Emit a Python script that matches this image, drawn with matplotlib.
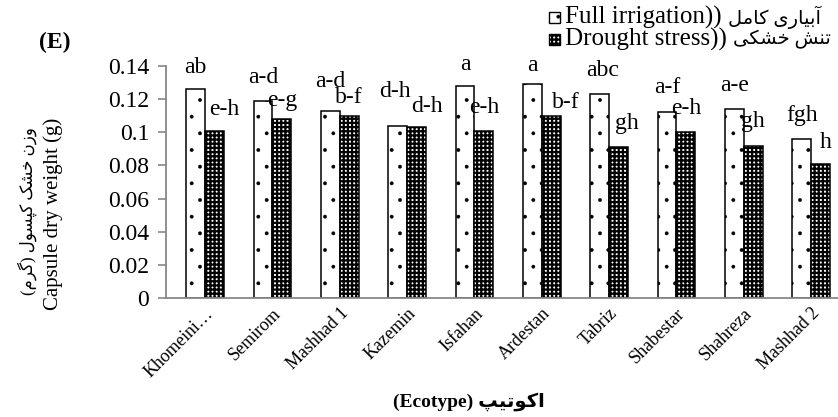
import numpy as np
import matplotlib
matplotlib.use('Agg')
import matplotlib.pyplot as plt
from matplotlib.patches import Rectangle

# داده‌ها
ecotypes = ['Khomeini…', 'Semirom', 'Mashhad 1', 'Kazemin', 'Isfahan',
            'Ardestan', 'Tabriz', 'Shabestar', 'Shahreza', 'Mashhad 2']
full_irrigation = [0.126, 0.119, 0.113, 0.104, 0.128, 0.129, 0.123, 0.112, 0.114, 0.096]
drought_stress = [0.101, 0.108, 0.110, 0.103, 0.101, 0.110, 0.091, 0.100, 0.092, 0.081]
full_letters = ['ab', 'a-d', 'a-d', 'd-h', 'a', 'a', 'abc', 'a-f', 'a-e', 'fgh']
drought_letters = ['e-h', 'e-g', 'b-f', 'd-h', 'e-h', 'b-f', 'gh', 'e-h', 'gh', 'h']
y_ticks = [0, 0.02, 0.04, 0.06, 0.08, 0.1, 0.12, 0.14]
y_tick_labels = ['0', '0.02', '0.04', '0.06', '0.08', '0.1', '0.12', '0.14']

# جای برچسب حروف (پیکسل نسبت به بالای ستون)
full_dx = [0, 0, 0, -3, 0, 0, 3, 0, 0, 0]
full_dy = [22, 23, 29, 34, 21, 19, 24, 25, 24, 23]
drought_dx = [10, 0, 0, 10, 0, 15, 8, 0, 0, 5]
drought_dy = [21, 19, 18, 21, 23, 13, 24, 24, 24, 21]

# شکل‌دهی ساده حروف فارسی (matplotlib خودش این کار را نمی‌کند)
FORMS = {
    '\u0622': ('\uFE81', '\uFE82', None, None),
    '\u0627': ('\uFE8D', '\uFE8E', None, None),
    '\u0628': ('\uFE8F', '\uFE90', '\uFE91', '\uFE92'),
    '\u062A': ('\uFE95', '\uFE96', '\uFE97', '\uFE98'),
    '\u062E': ('\uFEA5', '\uFEA6', '\uFEA7', '\uFEA8'),
    '\u0631': ('\uFEAD', '\uFEAE', None, None),
    '\u0632': ('\uFEAF', '\uFEB0', None, None),
    '\u0633': ('\uFEB1', '\uFEB2', '\uFEB3', '\uFEB4'),
    '\u0634': ('\uFEB5', '\uFEB6', '\uFEB7', '\uFEB8'),
    '\u0644': ('\uFEDD', '\uFEDE', '\uFEDF', '\uFEE0'),
    '\u0645': ('\uFEE1', '\uFEE2', '\uFEE3', '\uFEE4'),
    '\u0646': ('\uFEE5', '\uFEE6', '\uFEE7', '\uFEE8'),
    '\u0648': ('\uFEED', '\uFEEE', None, None),
    '\u067E': ('\uFB56', '\uFB57', '\uFB58', '\uFB59'),
    '\u06A9': ('\uFB8E', '\uFB8F', '\uFB90', '\uFB91'),
    '\u06AF': ('\uFB92', '\uFB93', '\uFB94', '\uFB95'),
    '\u06CC': ('\uFBFC', '\uFBFD', '\uFBFE', '\uFBFF'),
}


def rtl(s):
    out = []
    for i, c in enumerate(s):
        if c not in FORMS:
            out.append(c)
            continue
        prev = s[i - 1] if i > 0 else None
        nxt = s[i + 1] if i + 1 < len(s) else None
        j_prev = prev in FORMS and FORMS[prev][2] is not None
        j_next = FORMS[c][2] is not None and nxt in FORMS
        iso, fin, ini, med = FORMS[c]
        if j_prev and j_next:
            out.append(med)
        elif j_prev:
            out.append(fin)
        elif j_next:
            out.append(ini)
        else:
            out.append(iso)
    vis = ''.join(out)[::-1]
    return vis.translate(str.maketrans('()', ')('))


def set_hlw(patches, lw):
    for p in patches:
        if hasattr(p, 'set_hatch_linewidth'):
            p.set_hatch_linewidth(lw)


FAM = ['Liberation Serif', 'DejaVu Sans']
plt.rcParams['font.family'] = FAM

W, H = 838, 417
fig = plt.figure(figsize=(W / 100, H / 100), dpi=100)
ax = fig.add_axes([166 / W, 1 - 298 / H, 1 - 166 / W, (298 - 66) / H])

x = np.arange(len(ecotypes))
w = 0.28
b1 = ax.bar(x - w / 2, full_irrigation, w, facecolor='white', edgecolor='black',
            linewidth=1.1, hatch='.')
b2 = ax.bar(x + w / 2, drought_stress, w, facecolor='white', edgecolor='black',
            linewidth=1.1, hatch='++++')
set_hlw(b1, 0.3)
set_hlw(b2, 1.6)

for i in range(len(x)):
    ax.annotate(full_letters[i], (x[i] - w / 2, full_irrigation[i]),
                xytext=(full_dx[i], full_dy[i]), textcoords='offset pixels',
                ha='center', va='center', fontsize=17)
    ax.annotate(drought_letters[i], (x[i] + w / 2, drought_stress[i]),
                xytext=(drought_dx[i], drought_dy[i]), textcoords='offset pixels',
                ha='center', va='center', fontsize=17)

ax.set_xlim(-0.58, 9.40)
ax.set_ylim(0, 0.14)
ax.set_yticks(y_ticks)
ax.set_yticklabels(y_tick_labels, fontsize=17)
ax.set_xticks(x)
ax.set_xticklabels(ecotypes, rotation=45, ha='right', rotation_mode='anchor', fontsize=13)
ax.tick_params(axis='x', length=0, pad=5)
ax.tick_params(axis='y', length=6, color='#888888', width=1.2, pad=6)
for s in ['top', 'right']:
    ax.spines[s].set_visible(False)
for s in ['left', 'bottom']:
    ax.spines[s].set_color('#888888')
    ax.spines[s].set_linewidth(1.3)

fig.text(469 / W, 1 - 402 / H, '(Ecotype) ' + rtl('اکوتیپ'), ha='center', va='center',
         fontsize=14, fontweight='bold')

fig.text(27 / W, 0.494, rtl('وزن خشک کپسول (گرم)'), rotation=90, ha='center', va='center', fontsize=12)
fig.text(53 / W, 0.487, 'Capsule dry weight (g)', rotation=90, ha='center', va='center', fontsize=15)
fig.text(55 / W, 1 - 42 / H, '(E)', ha='center', va='center', fontsize=17, fontweight='bold')

# راهنما (دستی، چون متن فارسی اندازهٔ جدا دارد)
leg_rows = [('Full irrigation))', rtl('آبیاری کامل'), '.', 0.3, 17),
            ('Drought stress))', rtl('تنش خشکی'), '++++', 1.6, 39)]
fig.canvas.draw()
rend = fig.canvas.get_renderer()
for en, fa, hatch, hlw, yc in leg_rows:
    box = Rectangle((549 / W, 1 - (yc + 6) / H), 11 / W, 11 / H, transform=fig.transFigure,
                    facecolor='white', edgecolor='black', linewidth=1.0, hatch=hatch)
    set_hlw([box], hlw)
    fig.patches.append(box)
    t = fig.text(565 / W, 1 - yc / H, en, ha='left', va='center', fontsize=18)
    x1 = t.get_window_extent(rend).x1
    fig.text((x1 + 6) / W, 1 - yc / H, fa, ha='left', va='center', fontsize=14)

fig.savefig('out.png', dpi=100)
